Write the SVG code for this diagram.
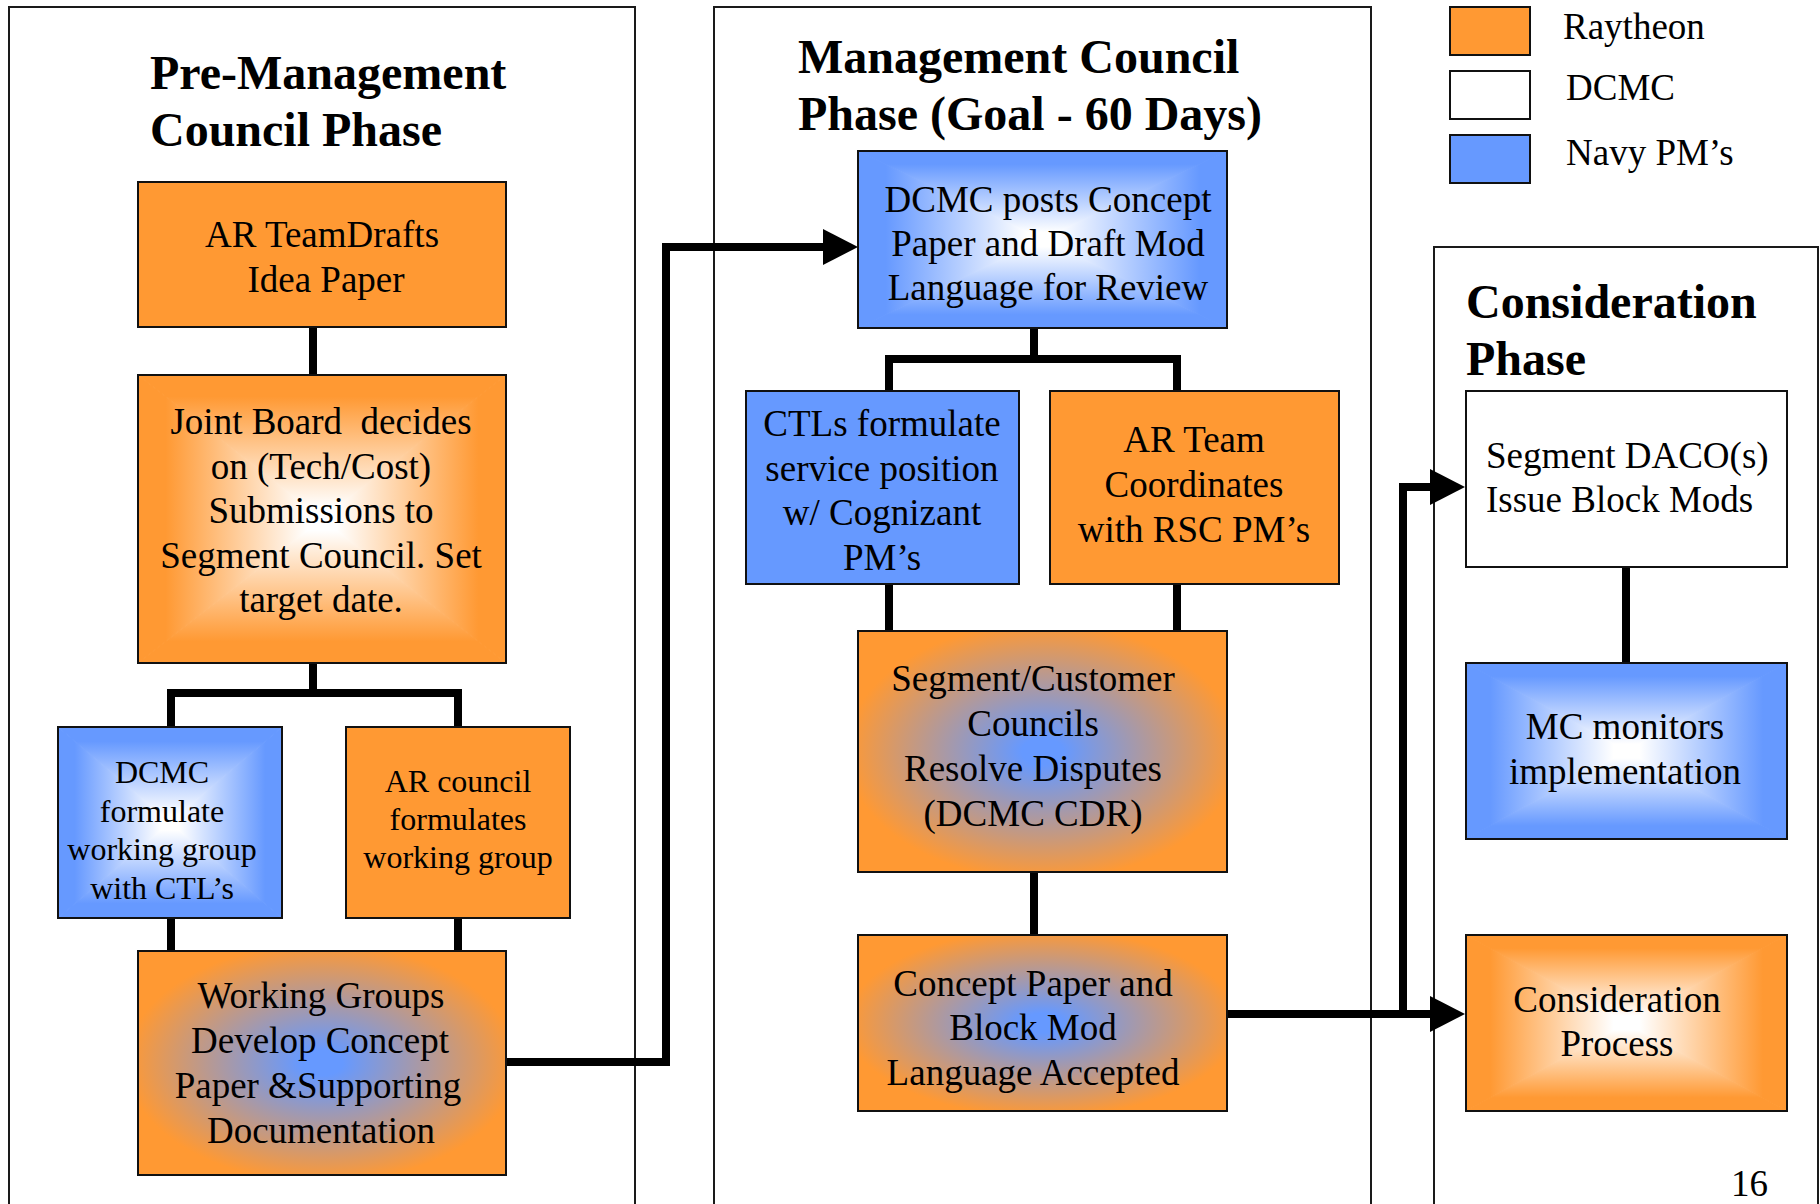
<svg xmlns="http://www.w3.org/2000/svg" width="1820" height="1204" viewBox="0 0 1820 1204">
<style>
.panel{fill:none;stroke:#1a1a1a;stroke-width:2}
.bord{fill:none;stroke:#111;stroke-width:2}
.or{fill:#FF9933}
.bl{fill:#6699FF}
.wh{fill:#FFFFFF}
.t{font-family:"Liberation Serif","Times New Roman",serif;font-size:37px;fill:#000}
.c{text-anchor:middle}
.h{font-family:"Liberation Serif","Times New Roman",serif;font-size:48px;font-weight:bold;fill:#000}
.conn{fill:none;stroke:#000;stroke-width:8;stroke-linejoin:miter}
.ow-t{fill:url(#owT);stroke:url(#owT);stroke-width:1}
.ow-b{fill:url(#owB);stroke:url(#owB);stroke-width:1}
.ow-l{fill:url(#owL);stroke:url(#owL);stroke-width:1}
.ow-r{fill:url(#owR);stroke:url(#owR);stroke-width:1}
.bw-t{fill:url(#bwT);stroke:url(#bwT);stroke-width:1}
.bw-b{fill:url(#bwB);stroke:url(#bwB);stroke-width:1}
.bw-l{fill:url(#bwL);stroke:url(#bwL);stroke-width:1}
.bw-r{fill:url(#bwR);stroke:url(#bwR);stroke-width:1}
.ob{fill:url(#ob)}
</style>
<defs>
<linearGradient id="owT" x1="0" y1="0" x2="0" y2="1"><stop offset="0" stop-color="#FF9933"/><stop offset="0.15" stop-color="#FF9933"/><stop offset="0.92" stop-color="#FFFFFF"/><stop offset="1" stop-color="#FFFFFF"/></linearGradient>
<linearGradient id="owB" x1="0" y1="1" x2="0" y2="0" href="#owT"/>
<linearGradient id="owL" x1="0" y1="0" x2="1" y2="0" href="#owT"/>
<linearGradient id="owR" x1="1" y1="0" x2="0" y2="0" href="#owT"/>
<linearGradient id="bwT" x1="0" y1="0" x2="0" y2="1"><stop offset="0" stop-color="#6699FF"/><stop offset="0.15" stop-color="#6699FF"/><stop offset="0.92" stop-color="#FFFFFF"/><stop offset="1" stop-color="#FFFFFF"/></linearGradient>
<linearGradient id="bwB" x1="0" y1="1" x2="0" y2="0" href="#bwT"/>
<linearGradient id="bwL" x1="0" y1="0" x2="1" y2="0" href="#bwT"/>
<linearGradient id="bwR" x1="1" y1="0" x2="0" y2="0" href="#bwT"/>
<radialGradient id="ob" cx="0.5" cy="0.5" r="0.56"><stop offset="0" stop-color="#6699FF"/><stop offset="0.1" stop-color="#6699FF"/><stop offset="0.95" stop-color="#FF9933"/><stop offset="1" stop-color="#FF9933"/></radialGradient>
<marker id="ah" markerUnits="userSpaceOnUse" markerWidth="35" markerHeight="36" viewBox="0 0 35 36" refX="0" refY="18" orient="auto"><path d="M0,0 L35,18 L0,36 Z" fill="#000"/></marker>
</defs>

<rect width="1820" height="1204" fill="#FFFFFF"/>

<!-- phase panels -->
<rect class="panel" x="9" y="7" width="626" height="1220"/>
<rect class="panel" x="714" y="7" width="657" height="1220"/>
<rect class="panel" x="1434" y="247" width="384" height="1000"/>

<text class="h" x="150" y="89">Pre-Management</text>
<text class="h" x="150" y="146">Council Phase</text>
<text class="h" x="798" y="73">Management Council</text>
<text class="h" x="798" y="130">Phase (Goal - 60 Days)</text>
<text class="h" x="1466" y="318">Consideration</text>
<text class="h" x="1466" y="375">Phase</text>

<!-- legend -->
<g id="legend">
<rect class="bord" style="fill:#FF9933" x="1450" y="7" width="80" height="48"/>
<rect class="bord" style="fill:#FFFFFF" x="1450" y="71" width="80" height="48"/>
<rect class="bord" style="fill:#6699FF" x="1450" y="135" width="80" height="48"/>
<text class="t" x="1563" y="39">Raytheon</text>
<text class="t" x="1566" y="100">DCMC</text>
<text class="t" x="1566" y="165">Navy PM’s</text>
</g>

<!-- connectors -->
<g id="connectors">
<path class="conn" d="M313,327 V375"/>
<path class="conn" d="M313,663 V693"/>
<path class="conn" d="M171,727 V693 H458 V727"/>
<path class="conn" d="M171,918 V951"/>
<path class="conn" d="M458,918 V951"/>
<path class="conn" d="M506,1062 H666 V247 H823" marker-end="url(#ah)"/>
<path class="conn" d="M1034,328 V359"/>
<path class="conn" d="M889,391 V359 H1177 V391"/>
<path class="conn" d="M889,584 V631"/>
<path class="conn" d="M1177,584 V631"/>
<path class="conn" d="M1034,872 V935"/>
<path class="conn" d="M1227,1014 H1430" marker-end="url(#ah)"/>
<path class="conn" d="M1403,1014 V487 H1430" marker-end="url(#ah)"/>
<path class="conn" d="M1626,567 V663"/>
</g>

<!-- nodes -->
<g id="n-idea">
<rect class="or" x="138" y="182" width="368" height="145"/>
<rect class="bord" x="138" y="182" width="368" height="145"/>
<text class="t c" x="322" y="247">AR TeamDrafts</text>
<text class="t c" x="326" y="292">Idea Paper</text>
</g>

<g id="n-joint">
<path class="ow-t" d="M138,375 H506 L322,519 Z"/>
<path class="ow-b" d="M138,663 H506 L322,519 Z"/>
<path class="ow-l" d="M138,375 V663 L322,519 Z"/>
<path class="ow-r" d="M506,375 V663 L322,519 Z"/>
<rect class="bord" x="138" y="375" width="368" height="288"/>
<text class="t c" x="321" y="434" xml:space="preserve">Joint Board  decides</text>
<text class="t c" x="321" y="479">on (Tech/Cost)</text>
<text class="t c" x="321" y="523">Submissions to</text>
<text class="t c" x="321" y="568">Segment Council. Set</text>
<text class="t c" x="321" y="612">target date.</text>
</g>

<g id="n-dcmc-wg">
<path class="bw-t" d="M58,727 H282 L170,822.5 Z"/>
<path class="bw-b" d="M58,918 H282 L170,822.5 Z"/>
<path class="bw-l" d="M58,727 V918 L170,822.5 Z"/>
<path class="bw-r" d="M282,727 V918 L170,822.5 Z"/>
<rect class="bord" x="58" y="727" width="224" height="191"/>
<text class="t c" style="font-size:32px" x="162" y="783">DCMC</text>
<text class="t c" style="font-size:32px" x="162" y="822">formulate</text>
<text class="t c" style="font-size:32px" x="162" y="860">working group</text>
<text class="t c" style="font-size:32px" x="162" y="899">with CTL’s</text>
</g>

<g id="n-ar-wg">
<rect class="or" x="346" y="727" width="224" height="191"/>
<rect class="bord" x="346" y="727" width="224" height="191"/>
<text class="t c" style="font-size:32px" x="458" y="792">AR council</text>
<text class="t c" style="font-size:32px" x="458" y="830">formulates</text>
<text class="t c" style="font-size:32px" x="458" y="868">working group</text>
</g>

<g id="n-develop">
<rect class="ob" x="138" y="951" width="368" height="224"/>
<rect class="bord" x="138" y="951" width="368" height="224"/>
<text class="t c" x="321" y="1008">Working Groups</text>
<text class="t c" x="320" y="1053">Develop Concept</text>
<text class="t c" x="318" y="1098">Paper &amp;Supporting</text>
<text class="t c" x="321" y="1143">Documentation</text>
</g>

<g id="n-posts">
<path class="bw-t" d="M858,151 H1227 L1042.5,239.5 Z"/>
<path class="bw-b" d="M858,328 H1227 L1042.5,239.5 Z"/>
<path class="bw-l" d="M858,151 V328 L1042.5,239.5 Z"/>
<path class="bw-r" d="M1227,151 V328 L1042.5,239.5 Z"/>
<rect class="bord" x="858" y="151" width="369" height="177"/>
<text class="t c" x="1048" y="212">DCMC posts Concept</text>
<text class="t c" x="1048" y="256">Paper and Draft Mod</text>
<text class="t c" x="1048" y="300">Language for Review</text>
</g>

<g id="n-ctls">
<rect class="bl" x="746" y="391" width="273" height="193"/>
<rect class="bord" x="746" y="391" width="273" height="193"/>
<text class="t c" x="882" y="436">CTLs formulate</text>
<text class="t c" x="882" y="481">service position</text>
<text class="t c" x="882" y="525">w/ Cognizant</text>
<text class="t c" x="882" y="570">PM’s</text>
</g>

<g id="n-arteam">
<rect class="or" x="1050" y="391" width="289" height="193"/>
<rect class="bord" x="1050" y="391" width="289" height="193"/>
<text class="t c" x="1194" y="452">AR Team</text>
<text class="t c" x="1194" y="497">Coordinates</text>
<text class="t c" x="1194" y="542">with RSC PM’s</text>
</g>

<g id="n-councils">
<rect class="ob" x="858" y="631" width="369" height="241"/>
<rect class="bord" x="858" y="631" width="369" height="241"/>
<text class="t c" x="1033" y="691">Segment/Customer</text>
<text class="t c" x="1033" y="736">Councils</text>
<text class="t c" x="1033" y="781">Resolve Disputes</text>
<text class="t c" x="1033" y="826">(DCMC CDR)</text>
</g>

<g id="n-accepted">
<rect class="ob" x="858" y="935" width="369" height="176"/>
<rect class="bord" x="858" y="935" width="369" height="176"/>
<text class="t c" x="1033" y="996">Concept Paper and</text>
<text class="t c" x="1033" y="1040">Block Mod</text>
<text class="t c" x="1033" y="1085">Language Accepted</text>
</g>

<g id="n-daco">
<rect class="wh" x="1466" y="391" width="321" height="176"/>
<rect class="bord" x="1466" y="391" width="321" height="176"/>
<text class="t" x="1486" y="468">Segment DACO(s)</text>
<text class="t" x="1486" y="512">Issue Block Mods</text>
</g>

<g id="n-monitor">
<path class="bw-t" d="M1466,663 H1787 L1626.5,751 Z"/>
<path class="bw-b" d="M1466,839 H1787 L1626.5,751 Z"/>
<path class="bw-l" d="M1466,663 V839 L1626.5,751 Z"/>
<path class="bw-r" d="M1787,663 V839 L1626.5,751 Z"/>
<rect class="bord" x="1466" y="663" width="321" height="176"/>
<text class="t c" x="1625" y="739">MC monitors</text>
<text class="t c" x="1625" y="784">implementation</text>
</g>

<g id="n-process">
<path class="ow-t" d="M1466,935 H1787 L1626.5,1023 Z"/>
<path class="ow-b" d="M1466,1111 H1787 L1626.5,1023 Z"/>
<path class="ow-l" d="M1466,935 V1111 L1626.5,1023 Z"/>
<path class="ow-r" d="M1787,935 V1111 L1626.5,1023 Z"/>
<rect class="bord" x="1466" y="935" width="321" height="176"/>
<text class="t c" x="1617" y="1012">Consideration</text>
<text class="t c" x="1617" y="1056">Process</text>
</g>

<text class="t" x="1731" y="1196">16</text>
</svg>
